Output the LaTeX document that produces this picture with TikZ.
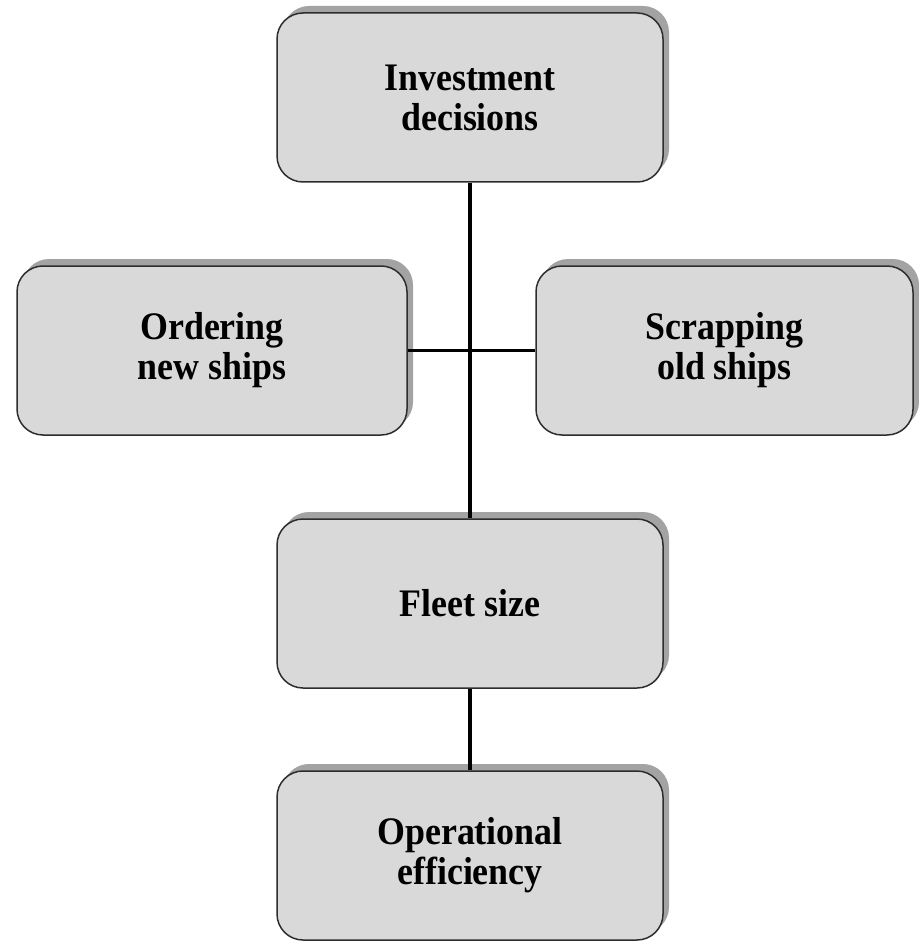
\documentclass[tikz,border=0pt]{standalone}
\usepackage{fontspec}
\setmainfont[FakeStretch=0.92]{Liberation Serif}
\usetikzlibrary{shadows}
\definecolor{boxgray}{RGB}{217,217,217}
\definecolor{shadowgray}{RGB}{163,163,163}
\definecolor{edgegray}{RGB}{45,45,45}

\begin{document}
\begin{tikzpicture}
[
x=1pt, y=-1pt,
box/.style={rectangle, rounded corners=26pt, draw=edgegray, line width=1.5pt, fill=boxgray, minimum width=386pt, minimum height=169pt, align=center, font=\fontsize{39}{40}\selectfont\bfseries, drop shadow={shadow xshift=6pt, shadow yshift=7pt, fill=shadowgray, opacity=1}},
side_left/.style={box, minimum width=390pt},
side_right/.style={box, minimum width=377pt},
link/.style={draw=black, line width=3.5pt}
]
\useasboundingbox (0,0) rectangle (918,941);

%Nodes
\node[box]          (inv)                                                   at (470,97.5) {Investment\\decisions};
\node[side_left]    (ord)   [below of=inv, node distance=253pt, xshift=-258pt]  {Ordering\\new ships};
\node[side_right]   (scr)   [right of=ord, node distance=512.5pt]              {Scrapping\\old ships};
\node[box]          (fleet) [below of=inv, node distance=506pt]                {Fleet size};
\node[box]          (op)    [below of=fleet, node distance=252pt]              {Operational\\efficiency};

%Lines
\path[link]
(inv)   edge    (fleet)
(ord)   edge    (scr)
(fleet) edge    (op);
\end{tikzpicture}
\end{document}
